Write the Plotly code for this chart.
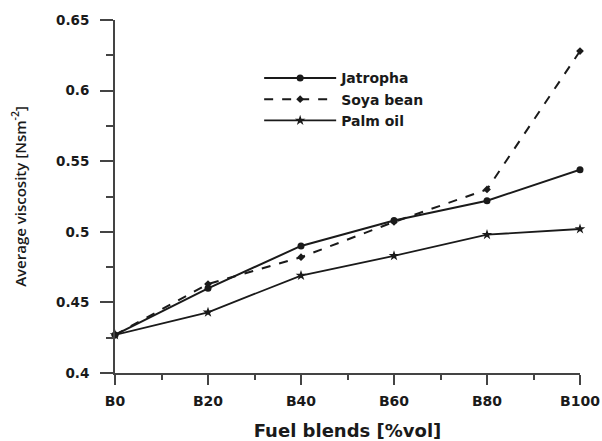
import plotly.graph_objects as go

blends = [0, 20, 40, 60, 80, 100]
blend_labels = ["B0", "B20", "B40", "B60", "B80", "B100"]
jatropha = [0.427, 0.460, 0.490, 0.508, 0.522, 0.544]
soya = [0.427, 0.463, 0.482, 0.507, 0.530, 0.628]
palm = [0.427, 0.443, 0.469, 0.483, 0.498, 0.502]

ink = "#1a1a1a"
axis_col = "#444444"

fig = go.Figure()
fig.add_trace(go.Scatter(x=blends, y=jatropha, name="Jatropha", mode="lines+markers",
                         line=dict(color=ink, width=2),
                         marker=dict(symbol="circle", size=7, color=ink),
                         cliponaxis=False))
fig.add_trace(go.Scatter(x=blends, y=soya, name="Soya bean", mode="lines+markers",
                         line=dict(color=ink, width=2, dash="dash"),
                         marker=dict(symbol="diamond", size=6, color=ink),
                         cliponaxis=False))
fig.add_trace(go.Scatter(x=blends, y=palm, name="Palm oil", mode="lines+markers",
                         line=dict(color=ink, width=1.8),
                         marker=dict(symbol="star", size=8, color=ink),
                         cliponaxis=False))

fig.update_layout(
    width=602, height=441,
    margin=dict(l=115, r=22, t=20, b=68),
    paper_bgcolor="white", plot_bgcolor="white",
    showlegend=True,
    legend=dict(x=0.31, y=0.88, xanchor="left", yanchor="top",
                font=dict(family="DejaVu Sans", size=14, color=ink, weight="bold"),
                bgcolor="rgba(0,0,0,0)", itemwidth=72, tracegroupgap=0),
    xaxis=dict(
        range=[0, 100], tickvals=blends, ticktext=blend_labels,
        showgrid=False, zeroline=False, automargin=False,
        showline=True, linecolor=axis_col, linewidth=2,
        ticks="outside", ticklen=10, tickwidth=2, tickcolor=axis_col,
        minor=dict(dtick=10, tick0=0, ticks="outside", ticklen=5, tickwidth=2, tickcolor=axis_col, showgrid=False),
        ticklabelstandoff=4,
        tickfont=dict(family="DejaVu Sans", size=14, color=ink, weight="bold"),
        title=dict(text="Fuel blends [%vol]", standoff=17,
                   font=dict(family="DejaVu Sans", size=18, color=ink, weight="bold")),
    ),
    yaxis=dict(
        range=[0.4, 0.65], dtick=0.05, tick0=0.4,
        showgrid=False, zeroline=False, automargin=False,
        showline=True, linecolor=axis_col, linewidth=2,
        ticks="outside", ticklen=13, tickwidth=2, tickcolor=axis_col,
        minor=dict(dtick=0.025, tick0=0.4, ticks="outside", ticklen=7, tickwidth=2, tickcolor=axis_col, showgrid=False),
        ticklabelstandoff=8,
        tickfont=dict(family="DejaVu Sans", size=13.5, color=ink, weight="bold"),
        title=dict(text="Average viscosity [Nsm<sup>-2</sup>]", standoff=26,
                   font=dict(family="Open Sans", size=15, color=ink, weight=600)),
    ),
)

fig.write_html("out.html", config={"displayModeBar": False},
               post_script="document.body.style.margin='0';")
